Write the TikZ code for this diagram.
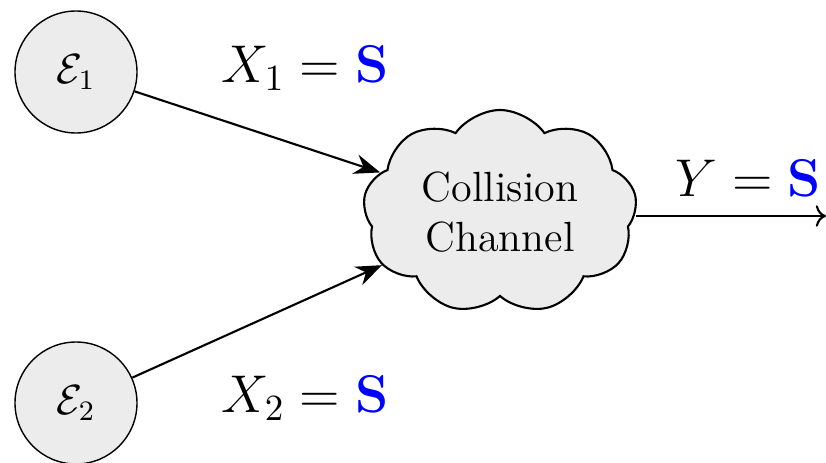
\documentclass[tikz,border=0pt]{standalone}
\usepackage{amsmath,amssymb}
\usepackage{tikz}
\usetikzlibrary{arrows.meta,positioning,shapes.symbols}

\begin{document}
\begin{tikzpicture}[
  source/.style={draw=black,fill=gray!15,circle,minimum size=12.2mm,
    inner sep=0pt,font=\large},
  channel/.style={draw=black,semithick,fill=gray!15,cloud,cloud puffs=9,
    cloud puff arc=110,aspect=1.35,align=center,font=\large,
    minimum width=27.4mm,minimum height=20.4mm,inner sep=1pt},
  lbl/.style={font=\Large,scale=1.05},
  every edge/.style={draw,-{Stealth[length=2.6mm,width=2mm]},semithick}
]
\useasboundingbox (0,0) rectangle (8.26,-4.62);

\node[source] (e1) at (0.76,-0.72) {$\mathcal{E}_1$};
\node[source] (e2) at (0.76,-4.03) {$\mathcal{E}_2$};

\node[channel] (chan) at (5.0,-2.12)
 {Collision\\Channel};

\coordinate (sink) at (8.26,-2.16);

\node[lbl] (x1) at (3.05,-0.68) {$X_1 = \textcolor{blue}{\mathbf{S}}$};
\node[lbl] (x2) at (3.05,-3.98) {$X_2 = \textcolor{blue}{\mathbf{S}}$};
\node[lbl] (y) at (7.48,-1.78) {$Y = \textcolor{blue}{\mathbf{S}}$};

\path (e1) edge (chan)
      (e2) edge (chan);
\draw[semithick,->] (chan.east |- sink) -- (sink);
\end{tikzpicture}
\end{document}
